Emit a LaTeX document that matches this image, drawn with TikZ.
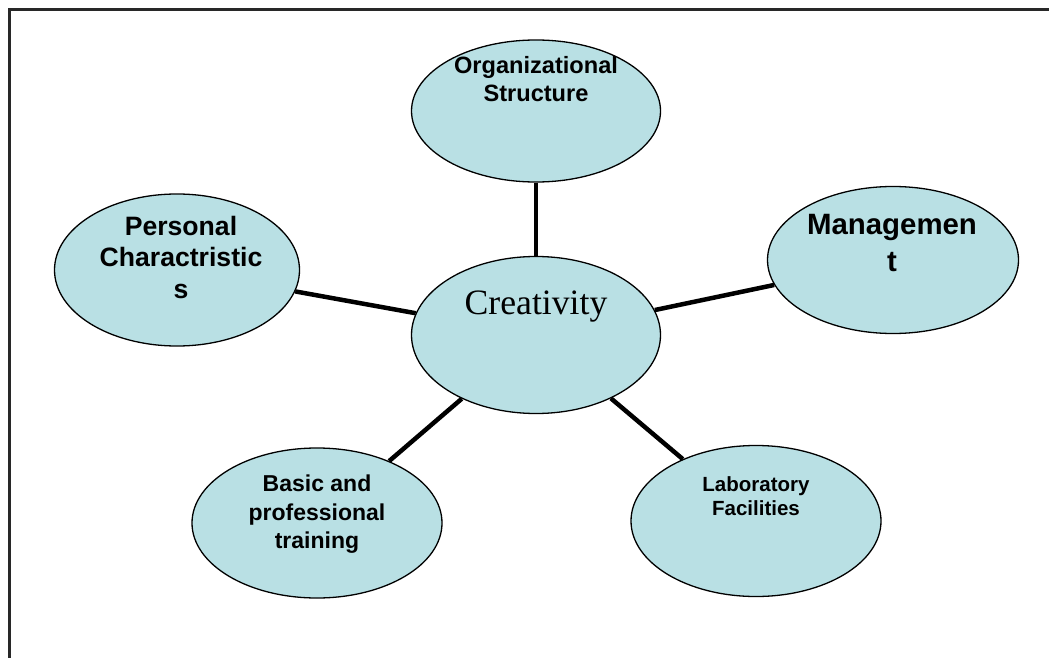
\documentclass[tikz,border=0pt]{standalone}
\usepackage{fontspec}
\setmainfont{Liberation Serif}
\setsansfont{Liberation Sans}
\usepackage{tikz}
\usetikzlibrary{shapes.geometric}
\definecolor{bubblefill}{RGB}{185, 224, 228}
\definecolor{framegray}{RGB}{40, 40, 40}

\begin{document}
\begin{tikzpicture}[x=1pt, y=-1pt,
    bubble/.style={ellipse, draw=black, line width=1.3pt, fill=bubblefill, inner sep=0pt},
    spoke/.style={line width=4.5pt},
    caption/.style={inner sep=0pt, anchor=north, align=center}]
    \useasboundingbox (0,0) rectangle (1049,658);
    % page frame, cut off at the right and bottom
    \draw[line width=2.5pt, framegray] (9.5,658) -- (9.5,9.5) -- (1049,9.5);

    % the five factors round the centre
    \node[bubble, minimum width=249pt, minimum height=157pt] (creativity) at (536,335) {};
    \node[bubble, minimum width=249pt, minimum height=142pt] (orgstruct) at (536,111) {};
    \node[bubble, minimum width=245pt, minimum height=152pt] (personal) at (177,270) {};
    \node[bubble, minimum width=251pt, minimum height=147pt] (management) at (893,260) {};
    \node[bubble, minimum width=250pt, minimum height=150pt] (training) at (317,523) {};
    \node[bubble, minimum width=250pt, minimum height=151pt] (laboratory) at (756,521) {};

    \draw[spoke] (orgstruct) -- (creativity);
    \draw[spoke] (personal) -- (creativity);
    \draw[spoke] (management) -- (creativity);
    \draw[spoke] (training) -- (creativity);
    \draw[spoke] (laboratory) -- (creativity);

    % texts sit in the upper part of each ellipse
    \node[caption, font=\rmfamily\fontsize{35.7}{40}\selectfont] (creativitytext) at (536,291) {Creativity};
    \node[caption, font=\sffamily\bfseries\fontsize{23.6}{28.5}\selectfont] (orgtext) at (536,56) {Organizational\\Structure};
    \node[caption, font=\sffamily\bfseries\fontsize{26.6}{31.5}\selectfont] (personaltext) at (181,216) {Personal\\Charactristic\\s};
    \node[caption, font=\sffamily\bfseries\fontsize{29.4}{37}\selectfont] (managementtext) at (892,214) {Managemen\\t};
    \node[caption, font=\sffamily\bfseries\fontsize{23}{28.5}\selectfont] (trainingtext) at (317,475) {Basic and\\professional\\training};
    \node[caption, font=\sffamily\bfseries\fontsize{20.5}{24}\selectfont] (laboratorytext) at (756,476) {Laboratory\\Facilities};
\end{tikzpicture}
\end{document}
